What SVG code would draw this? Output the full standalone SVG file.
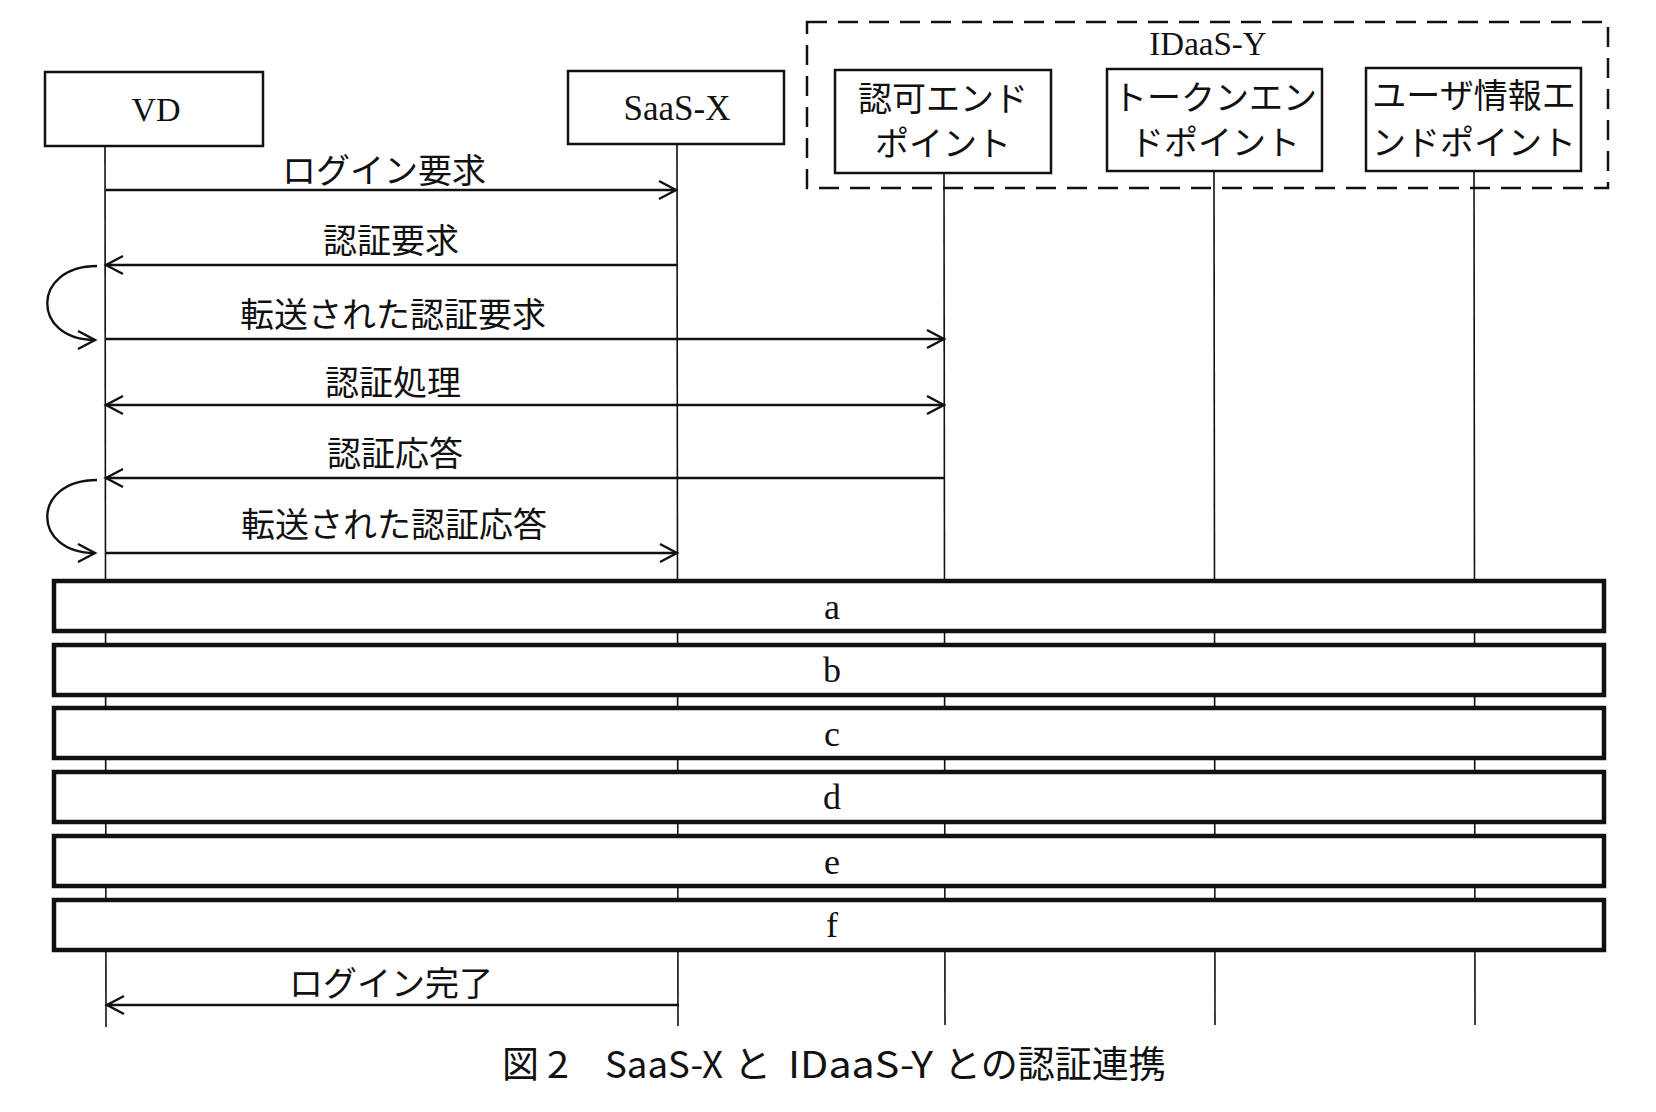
<svg xmlns="http://www.w3.org/2000/svg" width="1656" height="1112" viewBox="0 0 1656 1112">
<style>
.bg{fill:#ffffff}
.box{fill:#ffffff;stroke:#111;stroke-width:2.5}
.phase{fill:#ffffff;stroke:#111;stroke-width:4.5}
.group{fill:none;stroke:#111;stroke-width:2.5;stroke-dasharray:20 11}
.life{stroke:#111;stroke-width:1.6;fill:none}
.msg{stroke:#111;stroke-width:2.4;fill:none}
.jp{font-family:"Noto Sans CJK JP","Noto Sans CJK SC",sans-serif;font-size:34px;fill:#111;text-anchor:middle}
.lat{font-family:"Liberation Serif","DejaVu Serif",serif;fill:#111;text-anchor:middle}
.cap{font-family:"Noto Sans CJK JP","Noto Sans CJK SC",sans-serif;font-size:37px;fill:#111}
</style>
<defs>
<marker id="ah" markerUnits="userSpaceOnUse" markerWidth="24" markerHeight="24" viewBox="0 0 24 24" refX="20" refY="12" orient="auto-start-reverse">
<path d="M3,3 L20,12 L3,21" fill="none" stroke="#111" stroke-width="2.4"/>
</marker>
</defs>
<rect class="bg" x="0" y="0" width="1656" height="1112"/>

<g id="lifelines">
<line class="life" x1="105" y1="146" x2="106" y2="1027"/>
<line class="life" x1="677" y1="144" x2="678" y2="1026"/>
<line class="life" x1="944" y1="173" x2="945" y2="1025"/>
<line class="life" x1="1214" y1="171" x2="1215" y2="1025"/>
<line class="life" x1="1474" y1="171" x2="1475" y2="1025"/>
</g>

<g id="idaas-y">
<rect class="group" x="807" y="22" width="801" height="166"/>
<text class="lat" x="1208" y="55" font-size="33">IDaaS-Y</text>
</g>

<g id="vd">
<rect class="box" x="45" y="72" width="218" height="74"/>
<text class="lat" x="156" y="121" font-size="34">VD</text>
</g>

<g id="saas-x">
<rect class="box" x="568" y="71" width="216" height="73"/>
<text class="lat" x="677" y="120" font-size="35">SaaS-X</text>
</g>

<g id="authz-endpoint">
<rect class="box" x="835" y="70" width="216" height="103"/>
<text class="jp" x="943" y="111">認可エンド</text>
<text class="jp" x="943" y="156">ポイント</text>
</g>

<g id="token-endpoint">
<rect class="box" x="1107" y="69" width="215" height="102"/>
<text class="jp" x="1215" y="110">トークンエン</text>
<text class="jp" x="1215" y="155">ドポイント</text>
</g>

<g id="userinfo-endpoint">
<rect class="box" x="1366" y="68" width="215" height="103"/>
<text class="jp" x="1474" y="108">ユーザ情報エ</text>
<text class="jp" x="1474" y="155">ンドポイント</text>
</g>

<g id="connectors">
<line class="msg" x1="106" y1="190" x2="676" y2="190" marker-end="url(#ah)"/>
<line class="msg" x1="677" y1="265" x2="106" y2="265" marker-end="url(#ah)"/>
<path class="msg" d="M97,266 C31,266 31,340 95,340" marker-end="url(#ah)"/>
<line class="msg" x1="106" y1="339" x2="944" y2="339" marker-end="url(#ah)"/>
<line class="msg" x1="106" y1="405" x2="944" y2="405" marker-start="url(#ah)" marker-end="url(#ah)"/>
<line class="msg" x1="944" y1="478" x2="106" y2="478" marker-end="url(#ah)"/>
<path class="msg" d="M97,480 C31,480 31,553 95,553" marker-end="url(#ah)"/>
<line class="msg" x1="106" y1="553" x2="677" y2="553" marker-end="url(#ah)"/>
<line class="msg" x1="679" y1="1005" x2="107" y2="1005" marker-end="url(#ah)"/>
</g>

<g id="labels">
<text class="jp" x="384" y="183">ログイン要求</text>
<text class="jp" x="391" y="253">認証要求</text>
<text class="jp" x="393" y="327">転送された認証要求</text>
<text class="jp" x="393" y="395">認証処理</text>
<text class="jp" x="395" y="466">認証応答</text>
<text class="jp" x="394" y="537">転送された認証応答</text>
<text class="jp" x="391" y="996">ログイン完了</text>
</g>

<g id="phase-a"><rect class="phase" x="54" y="581" width="1550" height="50"/><text class="lat" x="832" y="619" font-size="36">a</text></g>
<g id="phase-b"><rect class="phase" x="54" y="645" width="1550" height="50"/><text class="lat" x="832" y="682" font-size="36">b</text></g>
<g id="phase-c"><rect class="phase" x="54" y="708" width="1550" height="50"/><text class="lat" x="832" y="746" font-size="36">c</text></g>
<g id="phase-d"><rect class="phase" x="54" y="772" width="1550" height="50"/><text class="lat" x="832" y="809" font-size="36">d</text></g>
<g id="phase-e"><rect class="phase" x="54" y="836" width="1550" height="50"/><text class="lat" x="832" y="874" font-size="36">e</text></g>
<g id="phase-f"><rect class="phase" x="54" y="900" width="1550" height="50"/><text class="lat" x="832" y="937" font-size="36">f</text></g>

<g id="caption">
<text class="cap" y="1078"><tspan x="502">図</tspan><tspan x="547" textLength="22" lengthAdjust="spacingAndGlyphs">2</tspan><tspan x="605" textLength="118" lengthAdjust="spacingAndGlyphs">SaaS-X</tspan><tspan x="734">と</tspan><tspan x="788" textLength="145" lengthAdjust="spacingAndGlyphs">IDaaS-Y</tspan><tspan x="944">との認証連携</tspan></text>
</g>
</svg>
